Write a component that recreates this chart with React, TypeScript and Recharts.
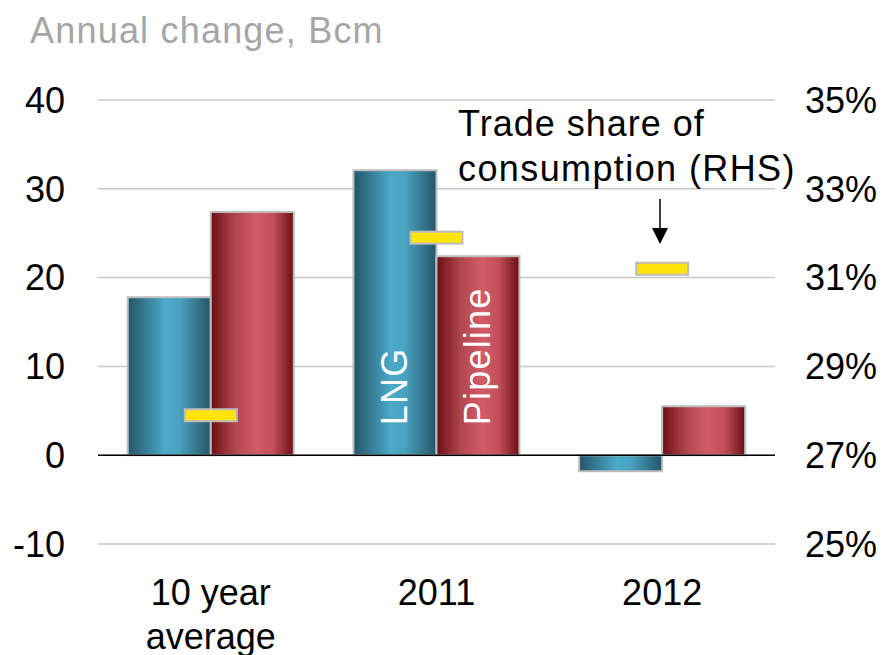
import React from "react";
import {
  ComposedChart,
  Bar,
  Line,
  XAxis,
  YAxis,
  CartesianGrid,
  ReferenceLine,
  LabelList,
  Customized,
} from "recharts";

const categories = ["10 year average", "2011", "2012"];
const lngValues = [17.8, 32.1, -1.8];
const pipelineValues = [27.4, 22.4, 5.5];
const tradeShare = [27.9, 31.9, 31.2];
const leftTicks = [-10, 0, 10, 20, 30, 40];
const rightTicks = [25, 27, 29, 31, 33, 35];

const data = categories.map((c, i) => ({
  name: c,
  lng: lngValues[i],
  pipeline: pipelineValues[i],
  share: tradeShare[i],
}));

const FONT = "'Liberation Sans', Arial, sans-serif";
const FS = 36;

const XTick = (props: any) => {
  const { x, y, payload } = props;
  const words = String(payload.value).split(" ");
  const lines =
    words.length > 2
      ? [words.slice(0, -1).join(" "), words[words.length - 1]]
      : [words.join(" ")];
  return (
    <g>
      {lines.map((l, i) => (
        <text
          key={i}
          x={x}
          y={y + 40 + i * 44}
          textAnchor="middle"
          dominantBaseline="central"
          fontSize={FS}
          fontFamily={FONT}
          fill="#000"
        >
          {l}
        </text>
      ))}
    </g>
  );
};

const ShareDot = (props: any) => {
  const { cx, cy } = props;
  if (cx == null || cy == null) return null;
  return (
    <rect
      x={cx - 26}
      y={cy - 6}
      width={52}
      height={12}
      fill="#ffe40a"
      stroke="#bdbdbd"
      strokeWidth={2}
    />
  );
};

const barLabel = (text: string) => (props: any) => {
  const { x, y, width, height, index } = props;
  if (index !== 1) return null;
  const cx = x + width / 2;
  const bottom = y + height - 30;
  return (
    <text
      transform={`translate(${cx},${bottom}) rotate(-90)`}
      textAnchor="start"
      dominantBaseline="central"
      fill="#fff"
      fontSize={FS}
      fontFamily={FONT}
      letterSpacing={1.2}
    >
      {text}
    </text>
  );
};

const Annotation = () => (
  <g fontFamily={FONT}>
    <text x={30} y={30} dominantBaseline="central" fontSize={FS} fill="#a6a6a6" letterSpacing={1.2}>
      Annual change, Bcm
    </text>
    <text x={458} y={123} dominantBaseline="central" fontSize={FS} fill="#000" letterSpacing={1}>
      Trade share of
    </text>
    <text x={458} y={168} dominantBaseline="central" fontSize={FS} fill="#000" letterSpacing={1.4}>
      consumption (RHS)
    </text>
    <line x1={660} y1={199} x2={660} y2={230} stroke="#000" strokeWidth={1.5} />
    <polygon points="652,228 668,228 660,244" fill="#000" />
  </g>
);

export default function App() {
  return (
    <div style={{ position: "absolute", left: 0, top: 0, background: "#fff" }}>
      <ComposedChart
        width={892}
        height={655}
        data={data}
        margin={{ top: 100, right: 0, bottom: 0, left: 0 }}
        barCategoryGap="13.2%"
        barGap={0}
      >
        <defs>
          <linearGradient id="lngGrad" x1="0" y1="0" x2="1" y2="0">
            <stop offset="0%" stopColor="#245568" />
            <stop offset="45%" stopColor="#4ba9c9" />
            <stop offset="62%" stopColor="#4aa2c0" />
            <stop offset="100%" stopColor="#245466" />
          </linearGradient>
          <linearGradient id="pipeGrad" x1="0" y1="0" x2="1" y2="0">
            <stop offset="0%" stopColor="#6c0f14" />
            <stop offset="30%" stopColor="#b2474f" />
            <stop offset="55%" stopColor="#d25c68" />
            <stop offset="75%" stopColor="#c24f5a" />
            <stop offset="100%" stopColor="#6c0f14" />
          </linearGradient>
        </defs>
        <CartesianGrid
          horizontal={true}
          vertical={false}
          stroke="#c8c8c8"
          strokeWidth={1.5}
          yAxisId="left"
        />
        <XAxis
          dataKey="name"
          axisLine={false}
          tickLine={false}
          height={111}
          tick={<XTick />}
          interval={0}
        />
        <YAxis
          yAxisId="left"
          domain={[-10, 40]}
          ticks={leftTicks}
          width={98}
          axisLine={false}
          tickLine={false}
          tickMargin={27}
          tick={{ fontSize: FS, fill: "#000", fontFamily: FONT }}
        />
        <YAxis
          yAxisId="right"
          orientation="right"
          domain={[25, 35]}
          ticks={rightTicks}
          width={117}
          axisLine={false}
          tickLine={false}
          tickMargin={24}
          tickFormatter={(v: number) => `${v}%`}
          tick={{ fontSize: FS, fill: "#000", fontFamily: FONT, textAnchor: "start" }}
        />
        <Bar
          yAxisId="left"
          dataKey="lng"
          fill="url(#lngGrad)"
          stroke="#bdbdbd"
          strokeWidth={2}
          isAnimationActive={false}
        >
          <LabelList dataKey="lng" content={barLabel("LNG")} />
        </Bar>
        <Bar
          yAxisId="left"
          dataKey="pipeline"
          fill="url(#pipeGrad)"
          stroke="#bdbdbd"
          strokeWidth={2}
          isAnimationActive={false}
        >
          <LabelList dataKey="pipeline" content={barLabel("Pipeline")} />
        </Bar>
        <ReferenceLine yAxisId="left" y={0} stroke="#000" strokeWidth={1.5} />
        <Line
          yAxisId="right"
          dataKey="share"
          stroke="none"
          dot={<ShareDot />}
          activeDot={false}
          isAnimationActive={false}
        />
        <Customized component={Annotation} />
      </ComposedChart>
    </div>
  );
}
